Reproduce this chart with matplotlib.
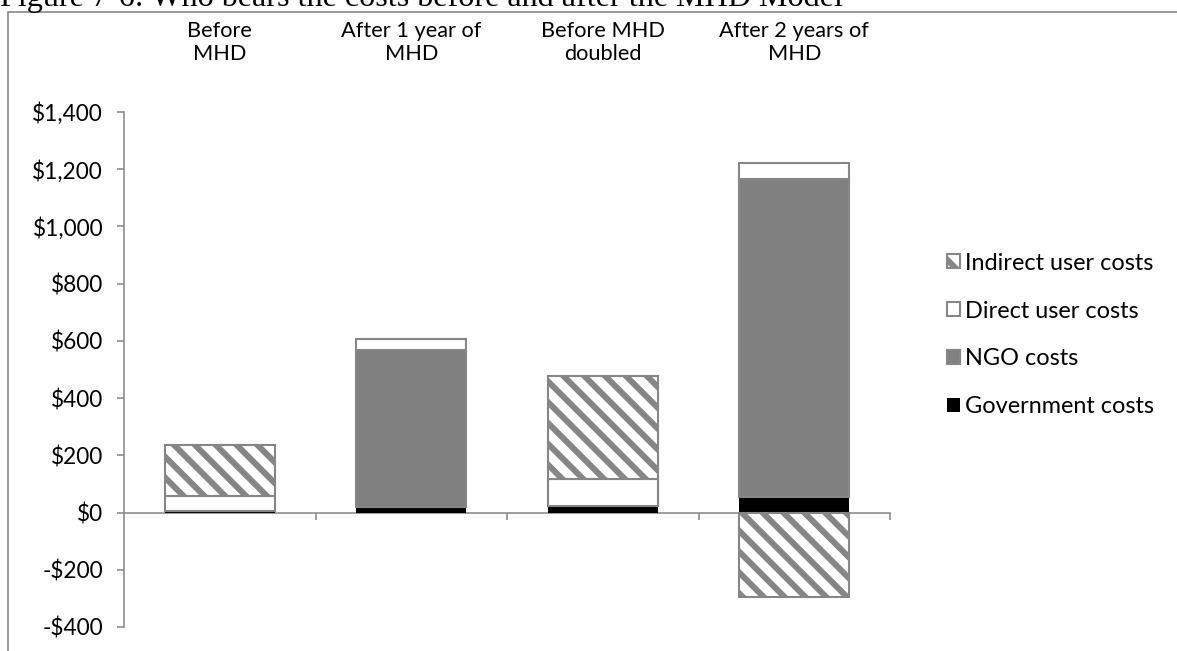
import numpy as np
import matplotlib.pyplot as plt
from matplotlib.patches import Rectangle

# Values (US$)
categories = ['Before\nMHD', 'After 1 year of\nMHD', 'Before MHD\ndoubled', 'After 2 years of\nMHD']
government = [5, 20, 22, 55]
ngo = [0, 549, 0, 1110]
direct_user = [52, 36, 97, 56]
indirect_user = [180, 0, 358, -295]

y_ticks = [-400, -200, 0, 200, 400, 600, 800, 1000, 1200, 1400]


def money(v):
    return ('-$' if v < 0 else '$') + f'{abs(v):,.0f}'


def main():
    plt.rcParams['font.family'] = ['Lato', 'DejaVu Sans']
    plt.rcParams['hatch.linewidth'] = 3.5

    fig = plt.figure(figsize=(1177 / 125, 651 / 125), dpi=125)
    ax = fig.add_axes([124 / 1177, 24 / 651, (890 - 124) / 1177, (627 - 112) / 651])

    grey = '#868686'
    x = np.arange(len(categories))
    w = 0.575

    gov = np.array(government, dtype=float)
    ng = np.array(ngo, dtype=float)
    du = np.array(direct_user, dtype=float)
    iu = np.array(indirect_user, dtype=float)

    ax.bar(x, gov, w, color='black', edgecolor='black', linewidth=0, label='Government costs', zorder=3)
    ax.bar(x, ng, w, bottom=gov, color='#808080', edgecolor=grey, linewidth=1.2,
           label='NGO costs', zorder=3)
    ax.bar(x, du, w, bottom=gov + ng, color='white', edgecolor=grey, linewidth=1.2,
           label='Direct user costs', zorder=3)
    # negative indirect costs hang below zero
    ind_bottom = np.where(iu >= 0, gov + ng + du, 0)
    ax.bar(x, iu, w, bottom=ind_bottom, color='white', edgecolor=grey, hatch='\\\\',
           linewidth=1.2, label='Indirect user costs', zorder=3)

    ax.set_xlim(-0.5, len(categories) - 0.5)
    ax.set_ylim(-400, 1400)
    ax.set_yticks(y_ticks)
    ax.set_yticklabels([money(v) for v in y_ticks], fontsize=13)

    ax.spines['top'].set_visible(False)
    ax.spines['right'].set_visible(False)
    ax.spines['bottom'].set_position(('data', 0))
    for s in ('left', 'bottom'):
        ax.spines[s].set_color(grey)
        ax.spines[s].set_linewidth(0.9)
    ax.set_xticks(np.arange(len(categories)) + 0.5)
    ax.set_xticklabels([])
    ax.tick_params(axis='x', direction='out', length=4, color=grey, width=0.9)
    ax.tick_params(axis='y', direction='out', length=4, color=grey, width=0.9, pad=8)

    # category names sit above the plot area
    for xi, name in zip(x, categories):
        ax.text(xi, 1.135, name, transform=ax.get_xaxis_transform(), ha='center', va='center',
                fontsize=12.5, linespacing=1.2)

    handles, labels = ax.get_legend_handles_labels()
    ax.legend(handles[::-1], labels[::-1], loc='center left', bbox_to_anchor=(926 / 1177, 1 - 335 / 651),
              bbox_transform=fig.transFigure, frameon=False, fontsize=13.5,
              handlelength=0.55, handleheight=0.55, handletextpad=0.2, labelspacing=1.15)

    # chart frame and clipped caption
    fig.patches.append(Rectangle((8 / 1177, -0.05), 1.1, 1 - 12 / 651 + 0.05, transform=fig.transFigure,
                                 fill=False, edgecolor='#8c8c8c', linewidth=1.0))
    fig.text(0.0, 1 - 6 / 651, 'Figure 7-6: Who bears the costs before and after the MHD Model',
             family='Liberation Serif', fontsize=18.5, va='baseline', ha='left')

    fig.savefig('out.png', dpi=125)


if __name__ == '__main__':
    main()
